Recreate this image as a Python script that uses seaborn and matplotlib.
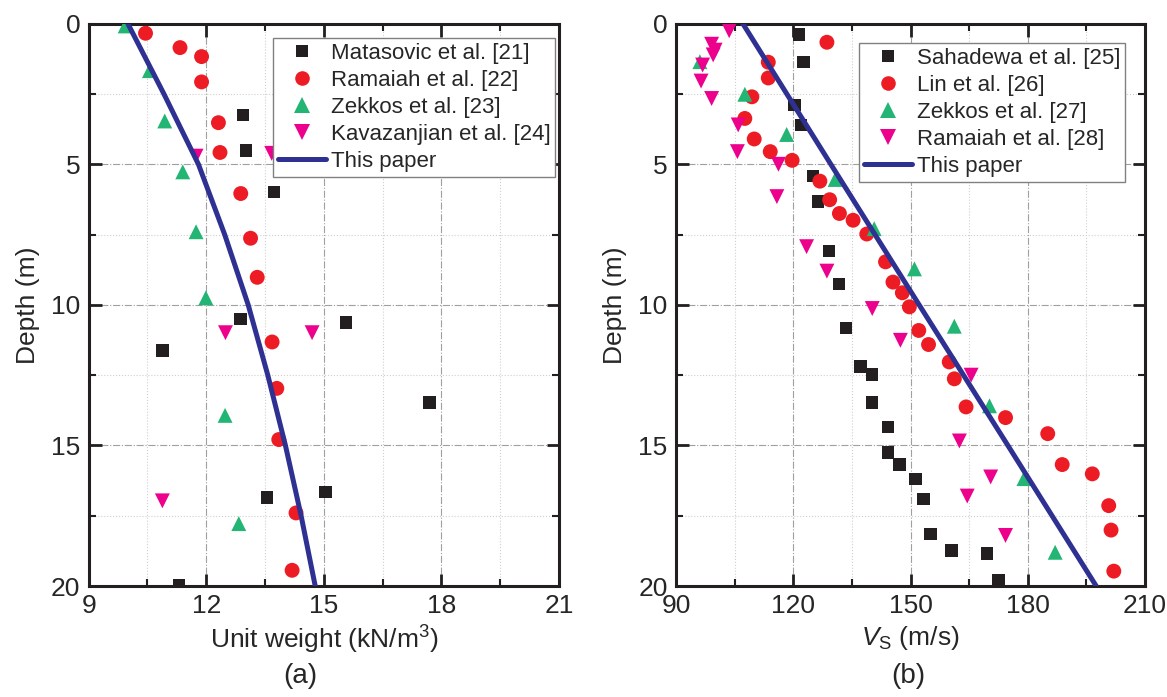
import numpy as np
import pandas as pd
import matplotlib
matplotlib.use("Agg")
import matplotlib.pyplot as plt
import seaborn as sns
from matplotlib.ticker import MultipleLocator
from matplotlib.lines import Line2D

# ---------------- data: panel (a) unit weight ----------------
mat_gamma = [12.94, 13.01, 13.73, 12.87, 10.88, 15.56, 17.70, 13.55, 15.04, 11.30]
mat_depth = [3.25, 4.51, 5.98, 10.51, 11.62, 10.63, 13.47, 16.85, 16.65, 19.96]

ram_gamma = [10.45, 11.33, 11.88, 11.88, 12.31, 12.35, 12.88, 13.13, 13.30, 13.68, 13.80, 13.85, 14.29, 14.19]
ram_depth = [0.34, 0.85, 1.17, 2.07, 3.52, 4.58, 6.04, 7.63, 9.02, 11.32, 12.97, 14.79, 17.40, 19.44]

zek_gamma = [9.93, 10.55, 10.94, 11.40, 11.74, 11.99, 12.48, 12.83]
zek_depth = [0.08, 1.67, 3.46, 5.27, 7.40, 9.75, 13.93, 17.78]

kav_gamma = [11.74, 13.67, 12.49, 14.70, 10.88]
kav_depth = [4.71, 4.61, 10.99, 10.99, 16.97]

paper_a_depth = [0, 2.5, 5, 7.5, 10, 12.5, 15, 17.5, 20]
paper_a_gamma = [10.0, 10.92, 11.80, 12.47, 13.07, 13.57, 14.02, 14.42, 14.78]

# ---------------- data: panel (b) shear wave velocity ----------------
sah_vs = [121.5, 122.6, 120.3, 122.0, 125.1, 126.3, 129.2, 131.7, 133.5, 137.2, 140.2, 140.2,
          144.3, 144.3, 147.2, 151.3, 153.3, 155.1, 160.5, 169.6, 172.5]
sah_depth = [0.38, 1.37, 2.89, 3.60, 5.42, 6.32, 8.08, 9.26, 10.82, 12.19, 12.48, 13.47,
             14.35, 15.25, 15.68, 16.19, 16.91, 18.14, 18.73, 18.85, 19.80]

lin_vs = [128.6, 113.6, 113.6, 109.4, 107.6, 110.0, 114.1, 119.7, 126.8, 129.3, 131.8, 135.3,
          138.8, 143.6, 145.5, 147.9, 149.7, 152.1, 154.6, 159.9, 161.2, 164.2, 174.3, 185.1,
          188.8, 196.5, 200.7, 201.3, 202.0]
lin_depth = [0.66, 1.37, 1.93, 2.60, 3.37, 4.10, 4.55, 4.86, 5.60, 6.26, 6.75, 6.99,
             7.48, 8.47, 9.19, 9.57, 10.07, 10.91, 11.41, 12.03, 12.63, 13.63, 14.01, 14.58,
             15.68, 16.01, 17.14, 18.01, 19.47]

zek2_vs = [96.1, 107.6, 118.3, 130.7, 140.7, 151.0, 161.2, 170.2, 179.0, 187.0]
zek2_depth = [1.35, 2.51, 3.94, 5.54, 7.29, 8.72, 10.76, 13.59, 16.18, 18.80]

ram2_vs = [103.6, 99.1, 100.0, 99.5, 96.8, 96.4, 99.1, 105.9, 105.7, 116.2, 115.8, 123.4,
           128.6, 140.2, 147.4, 165.5, 162.5, 170.5, 164.5, 174.3]
ram2_depth = [0.25, 0.73, 0.94, 1.11, 1.47, 2.04, 2.66, 3.60, 4.55, 5.00, 6.15, 7.93,
              8.80, 10.13, 11.26, 12.50, 14.84, 16.12, 16.80, 18.20]

paper_b_depth = [0, 5, 10, 15, 20]
paper_b_vs = [107.1, 129.6, 152.2, 174.9, 197.5]

labels_a = ["Matasovic et al. [21]", "Ramaiah et al. [22]", "Zekkos et al. [23]",
            "Kavazanjian et al. [24]", "This paper"]
labels_b = ["Sahadewa et al. [25]", "Lin et al. [26]", "Zekkos et al. [27]",
            "Ramaiah et al. [28]", "This paper"]

# ---------------- style ----------------
sns.set_theme(style="white")
plt.rcParams["font.family"] = ["Liberation Sans", "DejaVu Sans"]
plt.rcParams["mathtext.fontset"] = "custom"
plt.rcParams["mathtext.rm"] = "Liberation Sans"
plt.rcParams["mathtext.it"] = "Liberation Sans:italic"

C_BLACK = "#231f20"
C_RED = "#ed1c24"
C_GREEN = "#22b573"
C_MAG = "#ec008c"
C_BLUE = "#2e3192"

fig = plt.figure(figsize=(11.67, 6.97), dpi=100)
axA = fig.add_axes([0.076, 0.1592, 0.403, 0.8068])
axB = fig.add_axes([0.5793, 0.1592, 0.4019, 0.8068])

def series(ax, x, y, marker, color, s, label):
    sns.scatterplot(x=x, y=y, ax=ax, marker=marker, color=color, s=s,
                    edgecolor="none", linewidth=0, label=label, zorder=3, legend=False)

def style_axes(ax, xmin, xmax, xmaj, xlabel):
    ax.set_xlim(xmin, xmax)
    ax.set_ylim(20, 0)
    ax.xaxis.set_major_locator(MultipleLocator(xmaj))
    ax.xaxis.set_minor_locator(MultipleLocator(xmaj / 2))
    ax.yaxis.set_major_locator(MultipleLocator(5))
    ax.yaxis.set_minor_locator(MultipleLocator(2.5))
    ax.grid(True, which="major", color="#a0a0a0", linestyle="-.", linewidth=0.8, zorder=0)
    ax.grid(True, which="minor", color="#cfcfcf", linestyle=":", linewidth=0.8, zorder=0)
    ax.set_axisbelow(True)
    ax.tick_params(which="both", direction="in", top=True, right=True, bottom=True, left=True,
                   color="#231f20")
    ax.tick_params(which="major", length=9, width=2)
    ax.tick_params(which="minor", length=5, width=1.5)
    ax.tick_params(labelsize=19, pad=6)
    for sp in ax.spines.values():
        sp.set_linewidth(2.2)
        sp.set_color("#231f20")
    ax.set_xlabel(xlabel, fontsize=19, labelpad=4)
    ax.set_ylabel("Depth (m)", fontsize=19, labelpad=8)

# panel (a)
series(axA, mat_gamma, mat_depth, "s", C_BLACK, 80, labels_a[0])
series(axA, ram_gamma, ram_depth, "o", C_RED, 115, labels_a[1])
series(axA, zek_gamma, zek_depth, "^", C_GREEN, 115, labels_a[2])
series(axA, kav_gamma, kav_depth, "v", C_MAG, 115, labels_a[3])
sns.lineplot(x=paper_a_gamma, y=paper_a_depth, ax=axA, color=C_BLUE, linewidth=3.6,
             sort=False, estimator=None, zorder=4, label=labels_a[4], legend=False)
style_axes(axA, 9, 21, 3, "Unit weight (kN/m$^3$)")

# panel (b)
series(axB, sah_vs, sah_depth, "s", C_BLACK, 80, labels_b[0])
series(axB, lin_vs, lin_depth, "o", C_RED, 115, labels_b[1])
series(axB, zek2_vs, zek2_depth, "^", C_GREEN, 115, labels_b[2])
series(axB, ram2_vs, ram2_depth, "v", C_MAG, 115, labels_b[3])
sns.lineplot(x=paper_b_vs, y=paper_b_depth, ax=axB, color=C_BLUE, linewidth=3.6,
             sort=False, estimator=None, zorder=4, label=labels_b[4], legend=False)
style_axes(axB, 90, 210, 30, r"$V_{\mathrm{S}}$ (m/s)")

def make_handles():
    return [
        Line2D([], [], linestyle="none", marker="s", color=C_BLACK, markersize=9, markeredgewidth=0),
        Line2D([], [], linestyle="none", marker="o", color=C_RED, markersize=10.5, markeredgewidth=0),
        Line2D([], [], linestyle="none", marker="^", color=C_GREEN, markersize=11, markeredgewidth=0),
        Line2D([], [], linestyle="none", marker="v", color=C_MAG, markersize=11, markeredgewidth=0),
        Line2D([], [], color=C_BLUE, linewidth=3.6),
    ]

for ax, labs, anchor in [(axA, labels_a, (0.992, 0.975)), (axB, labels_b, (0.957, 0.966))]:
    leg = ax.legend(make_handles(), labs, loc="upper right", bbox_to_anchor=anchor,
                    borderaxespad=0, frameon=True, fancybox=False,
                    framealpha=1, edgecolor="#808080", handlelength=2.15,
                    handletextpad=0.2, labelspacing=0.27, borderpad=0.22,
                    prop={"family": ["Liberation Sans", "DejaVu Sans"], "size": 16})
    leg.get_frame().set_linewidth(1.0)
    leg.set_zorder(10)

fig.text(0.257, 0.03, "(a)", fontsize=20, ha="center", va="center")
fig.text(0.778, 0.03, "(b)", fontsize=20, ha="center", va="center")

fig.savefig("out.png", dpi=100)
